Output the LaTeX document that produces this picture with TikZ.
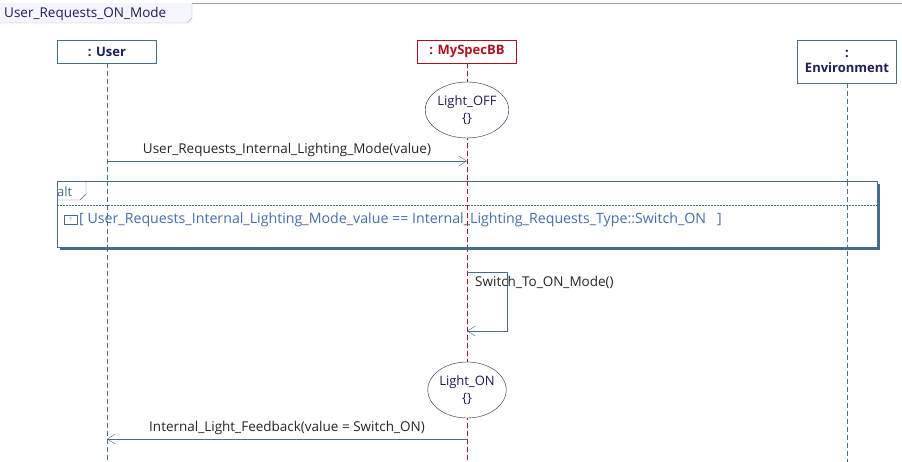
\documentclass[tikz,border=0pt]{standalone}
\usepackage{fontspec}
\setmainfont{Open Sans}
\usetikzlibrary{arrows.meta,shapes.geometric}
\definecolor{ln}{RGB}{70,110,140}
\definecolor{nav}{RGB}{30,30,90}
\definecolor{rd}{RGB}{170,20,30}
\definecolor{gt}{RGB}{70,110,170}
\tikzset{
 life/.style={ln, dash pattern=on 5pt off 3pt},
 obj/.style={draw=ln, fill=white, minimum width=99pt, font=\bfseries\fontsize{13}{15}\selectfont, text=nav, inner sep=1pt},
 st/.style={draw=nav, fill=white, ellipse, minimum width=68pt, minimum height=56pt, font=\fontsize{13}{17}\selectfont, text=nav, align=center, inner sep=0pt},
 msg/.style={ln, -{Straight Barb[length=8pt,width=10pt]}},
 lbl/.style={font=\fontsize{13.5}{16}\selectfont, text=black!85, inner sep=1pt}
}
\begin{document}
\begin{tikzpicture}[x=1pt,y=-1pt]
\useasboundingbox (0,0) rectangle (902,462);
\fill[white] (0,0) rectangle (902,462);
% diagram frame
\draw[ln!60] (0,3) -- (902,3);
\fill[blue!4] (0,3) rectangle (192,23);
\draw[ln!50] (192,3) -- (192,18) -- (187,23) -- (0,23);
\node[lbl, anchor=west, text=nav] (title) at (3,14) {User\_Requests\_ON\_Mode};
% lifelines
\coordinate (uend) at (107,462);
\coordinate (mend) at (467,462);
\coordinate (eend) at (847,462);
\node[obj, minimum height=23pt] (user) at (107,51.5) {: User};
\node[obj, draw=rd, text=rd, minimum height=23pt] (mb) at (467,51.5) {: MySpecBB};
\node[obj, minimum height=43pt, align=center] (env) at (847,61.5) {:\\Environment};
\draw[life] (user.south) -- (uend);
\draw[life, rd] (mb.south) -- (mend);
\draw[life] (env.south) -- (eend);
% states
\node[st] (off) at (467,110) {Light\_OFF\\\{\}};
\node[st] (on) at (467,390) {Light\_ON\\\{\}};
% message 1
\coordinate (m1a) at (107,161);
\coordinate (m1b) at (467,161);
\draw[msg] (m1a) -- (m1b) node[lbl, midway, above=3pt] {User\_Requests\_Internal\_Lighting\_Mode(value)};
% alt fragment
\fill[ln] (60,184) rectangle (880,250);
\fill[white] (57,181) rectangle (877,247);
\draw[ln] (57,181) rectangle (877,247);
\draw[ln] (57,200) -- (80,200) -- (86,194) -- (86,181);
\node[font=\fontsize{13}{15}\selectfont, text=ln, anchor=west, inner sep=0pt] (alt) at (57,192) {alt};
\draw[ln, dash pattern=on 2pt off 1pt] (57,205) -- (877,205);
\draw[ln, fill=white] (64,215) rectangle (77,224);
\node[font=\fontsize{5}{5}\selectfont, text=ln, inner sep=0pt] (ic) at (70.5,219.5) {?};
\node[font=\fontsize{14.2}{15}\selectfont, text=gt, anchor=west, inner sep=0pt] (guard) at (79,220) {[ User\_Requests\_Internal\_Lighting\_Mode\_value == Internal\_Lighting\_Requests\_Type::Switch\_ON \ \ ]};
\draw[life] (107,181) -- (107,247);
\draw[life, rd] (467,181) -- (467,247);
\draw[life] (847,181) -- (847,247);
% self message
\coordinate (s1) at (467,272);
\coordinate (s2) at (507,272);
\coordinate (s3) at (507,331);
\coordinate (s4) at (467,331);
\draw[msg] (s1) -- (s2) -- (s3) -- (s4);
\node[lbl, anchor=west] (selfl) at (474,282) {Switch\_To\_ON\_Mode()};
% return
\coordinate (r1) at (467,439);
\coordinate (r2) at (107,439);
\draw[msg] (r1) -- (r2) node[lbl, midway, above=3pt] {Internal\_Light\_Feedback(value = Switch\_ON)};
\end{tikzpicture}
\end{document}
